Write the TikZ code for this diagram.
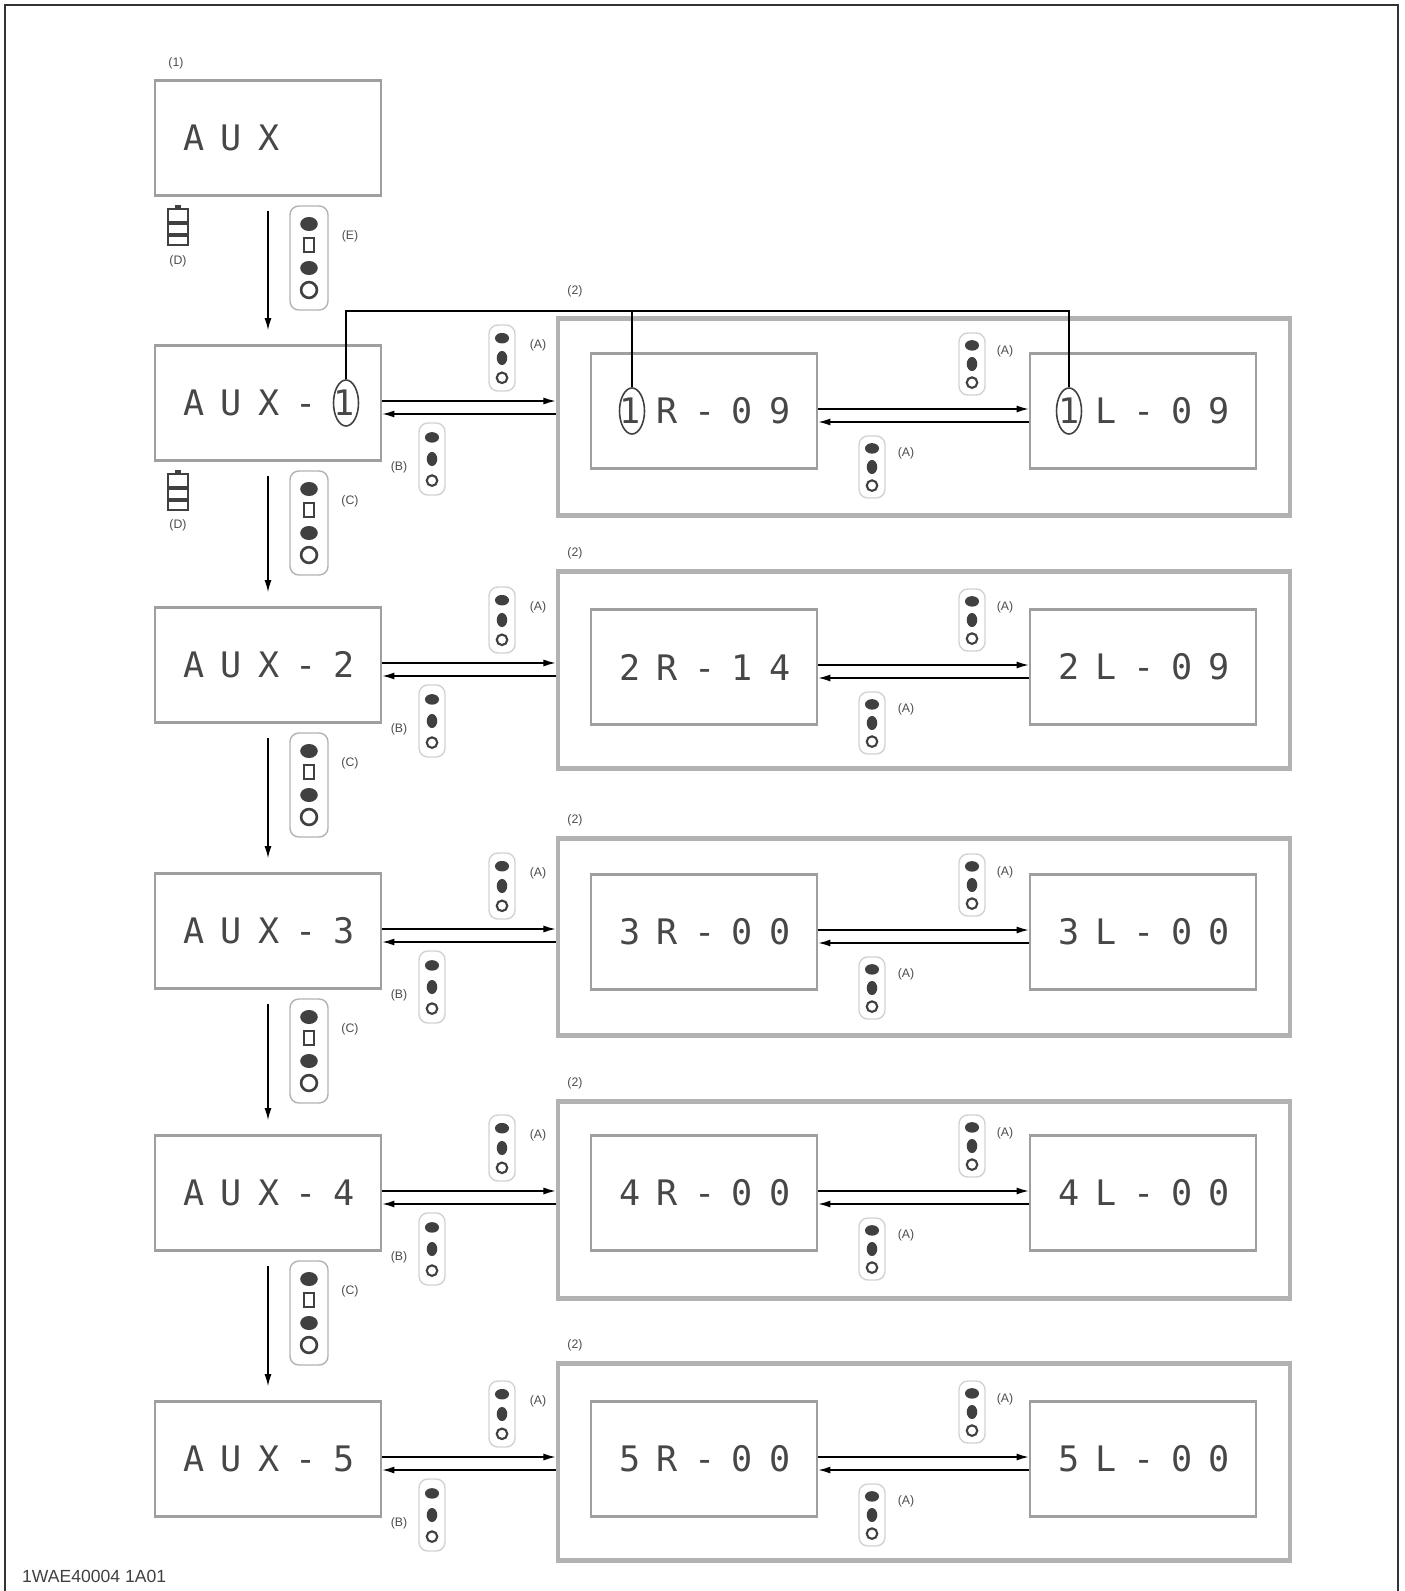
\documentclass[tikz,border=0pt]{standalone}
\usepackage{fontspec}
\setmainfont{Liberation Sans}
\newfontfamily\lcdfont[LetterSpace=47]{DejaVu Sans Mono}
\usetikzlibrary{shapes.geometric, arrows.meta, positioning, calc}

% button symbols
\newcommand{\bigkey}[2]{%
  \draw[keyedge] (#1-19,#2) rectangle (#1+19,#2+104);
  \fill[keyink] (#1,#2+18) ellipse (5pt and 4pt);
  \draw[keyink, line width=1pt] (#1-5,#2+32) rectangle (#1+5,#2+46);
  \fill[keyink] (#1,#2+62) ellipse (5pt and 4pt);
  \draw[keyink, line width=1.5pt] (#1,#2+84) circle (4.5pt);
}
\newcommand{\smallkey}[3]{%
  \draw[keyedge, draw=gray!35] (#1-13,#2) rectangle (#1+13,#2+#3);
  \fill[keyink] (#1,#2+0.2*#3) ellipse (4pt and 3pt);
  \fill[keyink] (#1,#2+0.5*#3) ellipse (3pt and 4pt);
  \draw[keyink, line width=1.2pt] (#1,#2+0.8*#3) circle (3pt);
}
\newcommand{\dispkey}[2]{%
  \draw[keyink, line width=1.2pt] (#1-10,#2) rectangle (#1+10,#2+36);
  \fill[keyink] (#1-10,#2+12) rectangle (#1+10,#2+16);
  \fill[keyink] (#1-10,#2+24) rectangle (#1+10,#2+28);
  \fill[keyink] (#1-3,#2-4) rectangle (#1+3,#2);
}

\begin{document}
\begin{tikzpicture}[x=0.02cm, y=-0.02cm,
    lcdbox/.style={draw=gray!75, line width=1.3pt, minimum height=2.3cm,
      text width=3.4cm, inner xsep=0.56cm, align=left,
      font=\lcdfont\fontsize{20}{20}\selectfont, text=black!72},
    outbox/.style={draw=gray!60, line width=2.6pt, minimum width=14.64cm,
      minimum height=3.94cm},
    oval/.style={ellipse, draw=black!75, line width=0.9pt, minimum width=0.5cm,
      minimum height=0.92cm, inner sep=0pt},
    tag/.style={font=\fontsize{7}{7}\selectfont, text=black!70, inner sep=1pt},
    fwd/.style={-{Latex[length=7pt,width=4pt]}, line width=0.9pt},
    keyedge/.style={draw=gray!60, rounded corners=5pt, line width=0.8pt},
    keyink/.style={black!75}]
    \useasboundingbox (0,0) rectangle (1404,1591);
    % page frame
    \draw[line width=1.2pt, black!80] (5,1591) -- (5,5) -- (1398,5) -- (1398,1591);

    % AUX column
    \node[tag] (t1) at (176,63) {(1)};
    \node[lcdbox] (aux0) at (268,138) {AUX};
    \node[lcdbox] (aux1) at (268,403) {AUX-1};
    \node[lcdbox] (aux2) at (268,665) {AUX-2};
    \node[lcdbox] (aux3) at (268,931) {AUX-3};
    \node[lcdbox] (aux4) at (268,1193) {AUX-4};
    \node[lcdbox] (aux5) at (268,1459) {AUX-5};
    \draw[fwd] ($(aux0.south)+(0,14)$) -- ($(aux1.north)+(0,-14)$);
    \draw[fwd] ($(aux1.south)+(0,14)$) -- ($(aux2.north)+(0,-14)$);
    \draw[fwd] ($(aux2.south)+(0,14)$) -- ($(aux3.north)+(0,-14)$);
    \draw[fwd] ($(aux3.south)+(0,14)$) -- ($(aux4.north)+(0,-14)$);
    \draw[fwd] ($(aux4.south)+(0,14)$) -- ($(aux5.north)+(0,-14)$);
    \bigkey{309}{206} \node[tag] (te) at (350,236) {(E)};
    \bigkey{309}{471} \node[tag] (tc1) at (350,501) {(C)};
    \bigkey{309}{733} \node[tag] (tc2) at (350,763) {(C)};
    \bigkey{309}{999} \node[tag] (tc3) at (350,1029) {(C)};
    \bigkey{309}{1261} \node[tag] (tc4) at (350,1291) {(C)};
    \dispkey{178}{209} \node[tag] (td0) at (178,261) {(D)};
    \dispkey{178}{474} \node[tag] (td1) at (178,525) {(D)};

    % side menus
    \node[outbox] (out1) at (924,417) {};
    \node[outbox] (out2) at (924,670) {};
    \node[outbox] (out3) at (924,937) {};
    \node[outbox] (out4) at (924,1200) {};
    \node[outbox] (out5) at (924,1462) {};
    \node[tag] (t2a) at (575,291) {(2)};
    \node[tag] (t2b) at (575,553) {(2)};
    \node[tag] (t2c) at (575,820) {(2)};
    \node[tag] (t2d) at (575,1083) {(2)};
    \node[tag] (t2e) at (575,1345) {(2)};
    \node[lcdbox] (r1) at (704,411) {1R-09};
    \node[lcdbox] (l1) at (1143,411) {1L-09};
    \node[lcdbox] (r2) at (704,667) {2R-14};
    \node[lcdbox] (l2) at (1143,667) {2L-09};
    \node[lcdbox] (r3) at (704,932) {3R-00};
    \node[lcdbox] (l3) at (1143,932) {3L-00};
    \node[lcdbox] (r4) at (704,1193) {4R-00};
    \node[lcdbox] (l4) at (1143,1193) {4L-00};
    \node[lcdbox] (r5) at (704,1459) {5R-00};
    \node[lcdbox] (l5) at (1143,1459) {5L-00};

    % circled 1 and its link
    \node[oval] (o1a) at (346,403) {};
    \node[oval] (o1r) at (632,411) {};
    \node[oval] (o1l) at (1069,411) {};
    \coordinate (bus) at (0,311);
    \draw[line width=0.9pt] (o1a.north) -- (o1a.north |- bus) -- (o1l.north |- bus) -- (o1l.north);
    \draw[line width=0.9pt] (o1r.north) -- (o1r.north |- bus);

    % row 1
    \coordinate (ar1) at ($(aux1.east)+(0,-2)$);
    \coordinate (al1) at ($(aux1.east)+(0,11)$);
    \coordinate (mr1) at ($(r1.east)+(0,-2)$);
    \coordinate (ml1) at ($(r1.east)+(0,11)$);
    \draw[fwd] (ar1) -- (ar1 -| out1.west);
    \draw[fwd] (al1 -| out1.west) -- (al1);
    \draw[fwd] (mr1) -- (mr1 -| l1.west);
    \draw[fwd] (ml1 -| l1.west) -- (ml1);
    \smallkey{502}{325}{66} \node[tag] (ta1) at (538,345) {(A)};
    \smallkey{432}{423}{72} \node[tag] (tb1) at (399,467) {(B)};
    \smallkey{972}{333}{62} \node[tag] (tm1) at (1005,351) {(A)};
    \smallkey{872}{436}{62} \node[tag] (tn1) at (906,453) {(A)};

    % row 2
    \coordinate (ar2) at ($(aux2.east)+(0,-2)$);
    \coordinate (al2) at ($(aux2.east)+(0,11)$);
    \coordinate (mr2) at ($(r2.east)+(0,-2)$);
    \coordinate (ml2) at ($(r2.east)+(0,11)$);
    \draw[fwd] (ar2) -- (ar2 -| out2.west);
    \draw[fwd] (al2 -| out2.west) -- (al2);
    \draw[fwd] (mr2) -- (mr2 -| l2.west);
    \draw[fwd] (ml2 -| l2.west) -- (ml2);
    \smallkey{502}{587}{66} \node[tag] (ta2) at (538,607) {(A)};
    \smallkey{432}{685}{72} \node[tag] (tb2) at (399,729) {(B)};
    \smallkey{972}{589}{62} \node[tag] (tm2) at (1005,607) {(A)};
    \smallkey{872}{692}{62} \node[tag] (tn2) at (906,709) {(A)};

    % row 3
    \coordinate (ar3) at ($(aux3.east)+(0,-2)$);
    \coordinate (al3) at ($(aux3.east)+(0,11)$);
    \coordinate (mr3) at ($(r3.east)+(0,-2)$);
    \coordinate (ml3) at ($(r3.east)+(0,11)$);
    \draw[fwd] (ar3) -- (ar3 -| out3.west);
    \draw[fwd] (al3 -| out3.west) -- (al3);
    \draw[fwd] (mr3) -- (mr3 -| l3.west);
    \draw[fwd] (ml3 -| l3.west) -- (ml3);
    \smallkey{502}{853}{66} \node[tag] (ta3) at (538,873) {(A)};
    \smallkey{432}{951}{72} \node[tag] (tb3) at (399,995) {(B)};
    \smallkey{972}{854}{62} \node[tag] (tm3) at (1005,872) {(A)};
    \smallkey{872}{957}{62} \node[tag] (tn3) at (906,974) {(A)};

    % row 4
    \coordinate (ar4) at ($(aux4.east)+(0,-2)$);
    \coordinate (al4) at ($(aux4.east)+(0,11)$);
    \coordinate (mr4) at ($(r4.east)+(0,-2)$);
    \coordinate (ml4) at ($(r4.east)+(0,11)$);
    \draw[fwd] (ar4) -- (ar4 -| out4.west);
    \draw[fwd] (al4 -| out4.west) -- (al4);
    \draw[fwd] (mr4) -- (mr4 -| l4.west);
    \draw[fwd] (ml4 -| l4.west) -- (ml4);
    \smallkey{502}{1115}{66} \node[tag] (ta4) at (538,1135) {(A)};
    \smallkey{432}{1213}{72} \node[tag] (tb4) at (399,1257) {(B)};
    \smallkey{972}{1115}{62} \node[tag] (tm4) at (1005,1133) {(A)};
    \smallkey{872}{1218}{62} \node[tag] (tn4) at (906,1235) {(A)};

    % row 5
    \coordinate (ar5) at ($(aux5.east)+(0,-2)$);
    \coordinate (al5) at ($(aux5.east)+(0,11)$);
    \coordinate (mr5) at ($(r5.east)+(0,-2)$);
    \coordinate (ml5) at ($(r5.east)+(0,11)$);
    \draw[fwd] (ar5) -- (ar5 -| out5.west);
    \draw[fwd] (al5 -| out5.west) -- (al5);
    \draw[fwd] (mr5) -- (mr5 -| l5.west);
    \draw[fwd] (ml5 -| l5.west) -- (ml5);
    \smallkey{502}{1381}{66} \node[tag] (ta5) at (538,1401) {(A)};
    \smallkey{432}{1479}{72} \node[tag] (tb5) at (399,1523) {(B)};
    \smallkey{972}{1381}{62} \node[tag] (tm5) at (1005,1399) {(A)};
    \smallkey{872}{1484}{62} \node[tag] (tn5) at (906,1501) {(A)};

    \node[anchor=west, font=\fontsize{10}{10}\selectfont, text=black!75] (code) at (16,1576) {1WAE40004 1A01};
\end{tikzpicture}
\end{document}
